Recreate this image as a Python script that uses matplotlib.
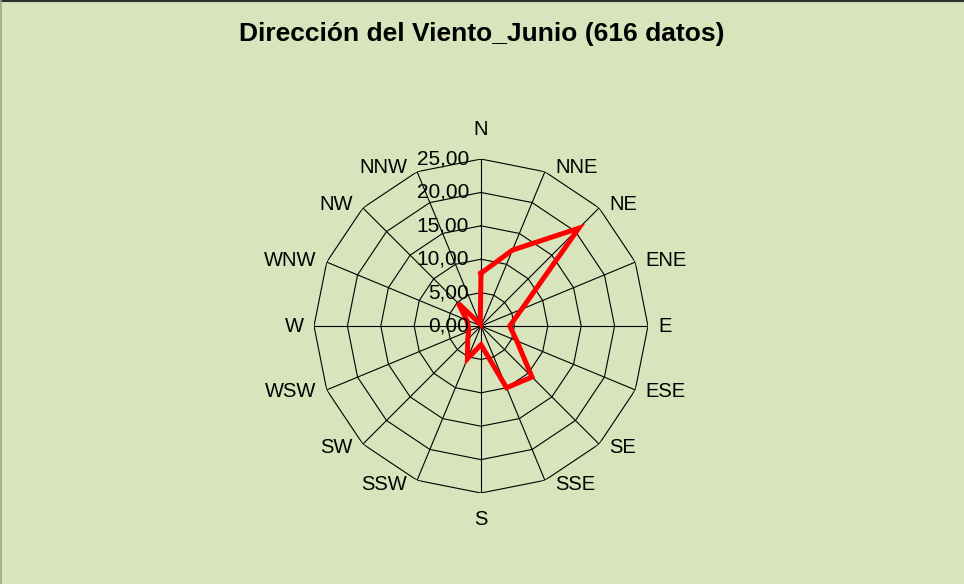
import numpy as np
import matplotlib
matplotlib.use("Agg")
import matplotlib.pyplot as plt
from matplotlib.lines import Line2D

plt.rcParams['font.family'] = ['Liberation Sans', 'DejaVu Sans']

# Datos: porcentaje de frecuencia por dirección
direcciones = ["N", "NNE", "NE", "ENE", "E", "ESE", "SE", "SSE",
               "S", "SSW", "SW", "WSW", "W", "WNW", "NW", "NNW"]
frecuencia = [7.9, 12.3, 20.7, 6.6, 4.3, 5.8, 10.8, 10.0,
              2.8, 5.3, 2.8, 2.0, 1.9, 2.3, 4.8, 0.3]
anillos = [0, 5, 10, 15, 20, 25]
etiquetas_anillos = ["0,00", "5,00", "10,00", "15,00", "20,00", "25,00"]

fondo = "#D8E4BC"
fig = plt.figure(figsize=(9.64, 5.84), dpi=100, facecolor=fondo)

ax = fig.add_axes([0.3257, 0.1558, 0.3465, 0.5719], projection="polar")
ax.set_facecolor("none")
ax.set_theta_zero_location("N")
ax.set_theta_direction(-1)
ax.set_ylim(0, 25)
ax.grid(False)
ax.spines["polar"].set_visible(False)
ax.set_xticks([])
ax.set_yticks([])

n = len(direcciones)
angulos = np.arange(n) * 2 * np.pi / n
ang_cerrado = np.append(angulos, angulos[0])

# Anillos poligonales
for r in anillos[1:]:
    ax.plot(ang_cerrado, [r] * (n + 1), color="black", lw=0.8, zorder=1)

# Radios
for a in angulos:
    ax.plot([a, a], [0, 25], color="black", lw=0.8, zorder=1)

# Serie de datos
valores = np.append(frecuencia, frecuencia[0])
ax.plot(ang_cerrado, valores, color="#FF0000", lw=3.6, solid_joinstyle="miter", zorder=3)

# Etiquetas de escala
for r, t in zip(anillos, etiquetas_anillos):
    ax.annotate(t, xy=(0, r), xytext=(-12, 0), textcoords="offset pixels",
                ha="right", va="center", fontsize=15, color="black", zorder=4)

# Etiquetas de dirección
for a, d in zip(angulos, direcciones):
    s, c = np.sin(a), np.cos(a)
    if abs(s) < 1e-6:
        ha = "center"
        if c > 0:
            off, va = (0, 20), "bottom"
        else:
            off, va = (0, -17), "top"
    else:
        ha = "left" if s > 0 else "right"
        va = "center"
        off = (10 * np.sign(s), 5 * c)
    ax.annotate(d, xy=(a, 25), xytext=off, textcoords="offset pixels",
                ha=ha, va=va, fontsize=14.5, color="black")

fig.text(0.5, 1 - 34 / 584, "Dirección del Viento_Junio (616 datos)",
         ha="center", va="center", fontsize=19, fontweight="bold")

# Bordes del área del gráfico
fig.lines.append(Line2D([0, 1], [0.999, 0.999], transform=fig.transFigure,
                        color="#303030", lw=1.5))
fig.lines.append(Line2D([0.0008, 0.0008], [0, 1], transform=fig.transFigure,
                        color="#9AA88A", lw=1.2))

fig.savefig("out.png", dpi=100, facecolor=fondo)
